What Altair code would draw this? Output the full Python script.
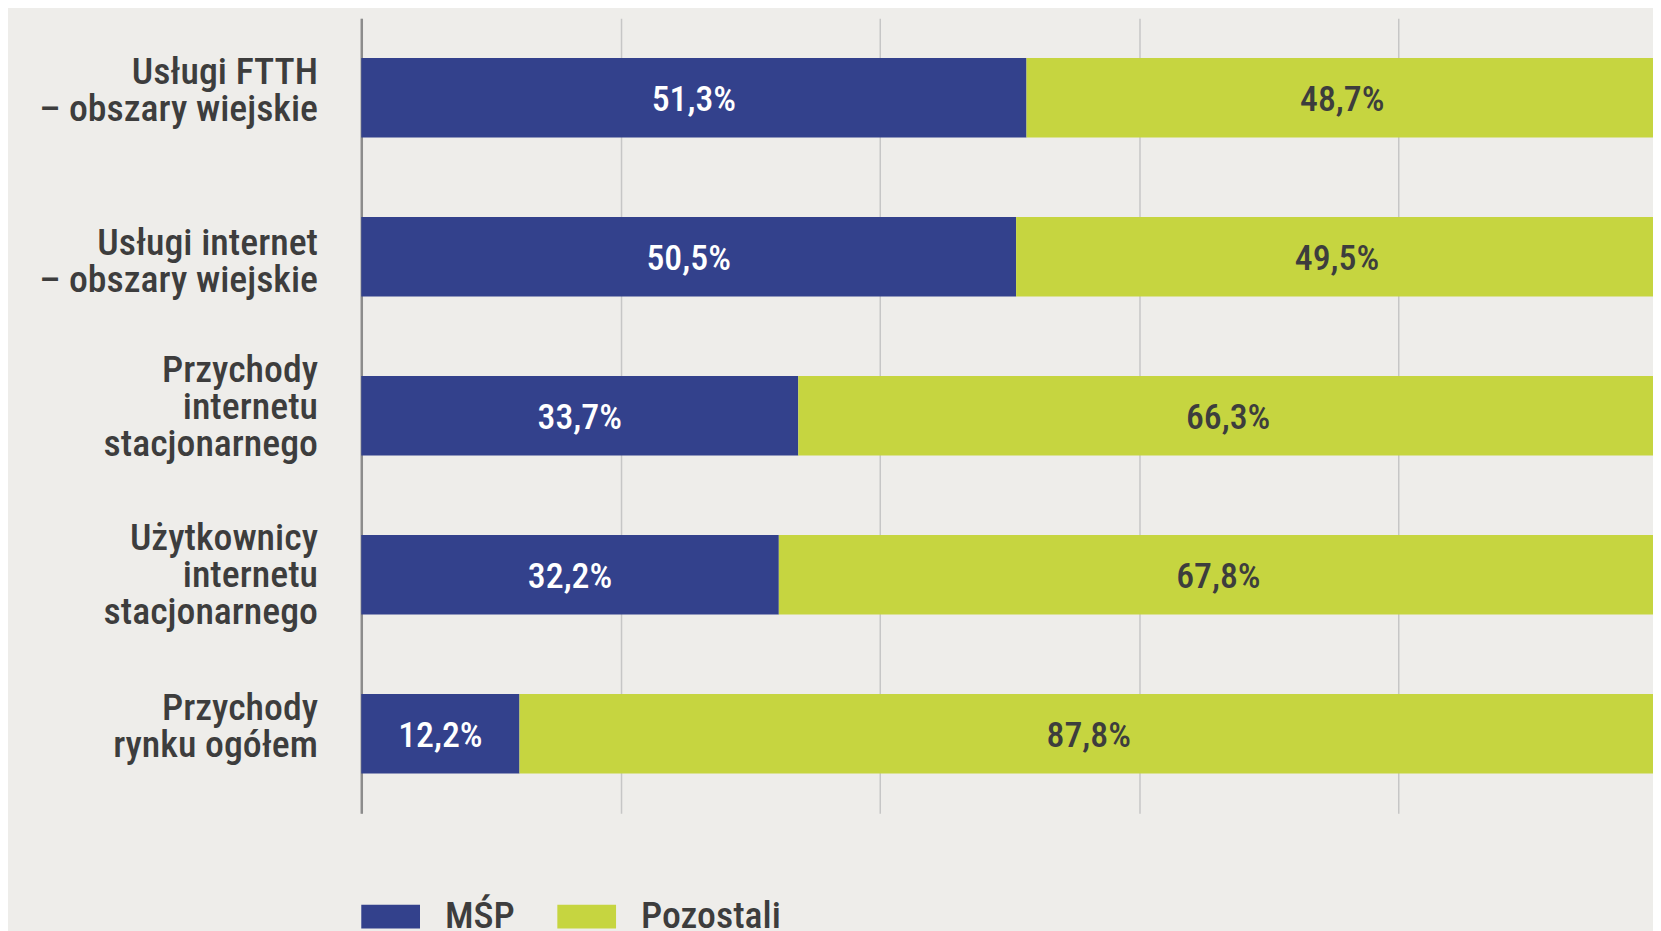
import altair as alt
import pandas as pd

categories = [
    "Usługi FTTH\n– obszary wiejskie",
    "Usługi internet\n– obszary wiejskie",
    "Przychody\ninternetu\nstacjonarnego",
    "Użytkownicy\ninternetu\nstacjonarnego",
    "Przychody\nrynku ogółem",
]
series = ["MŚP", "Pozostali"]
msp = [51.3, 50.5, 33.7, 32.2, 12.2]
pozostali = [48.7, 49.5, 66.3, 67.8, 87.8]
x_ticks = [0, 20, 40, 60, 80, 100]

rows = []
for c, a, b in zip(categories, msp, pozostali):
    rows.append({"category": c, "series": series[0], "order": 0, "value": a})
    rows.append({"category": c, "series": series[1], "order": 1, "value": b})
df = pd.DataFrame(rows)

FONT = "Roboto Condensed, Roboto"
BLUE = "#33418C"
GREEN = "#C6D540"
DARK = "#3D3D3D"

base = alt.Chart(df).transform_stack(
    stack="value", groupby=["category"], as_=["x0", "x1"],
    sort=[alt.SortField("order", order="ascending")]
).transform_calculate(
    mid="(datum.x0 + datum.x1) / 2",
    lab="replace(format(datum.value, '.1f'), '.', ',') + '%'"
)

xscale = alt.Scale(domain=[0, 100], range=[0, 1303], nice=False, zero=True)
yenc = alt.Y(
    "category:N", sort=categories, title=None,
    scale=alt.Scale(paddingInner=0.5, paddingOuter=0.25),
    axis=alt.Axis(
        labelExpr="split(datum.label, '\\n')",
        labelFont=FONT, labelFontSize=38, labelFontWeight=500,
        labelColor=DARK, labelLineHeight=37, labelPadding=44,
        labelLimit=400, ticks=False, domain=True, domainColor="#8C8C8C",
        domainWidth=2.5, grid=False, labelBaseline="middle",
        labelOffset={
            "condition": [
                {"test": "indexof(datum.value, 'Usługi internet') == 0", "value": -13},
                {"test": "indexof(datum.value, 'Przychody\\ninternetu') == 0", "value": -45},
                {"test": "indexof(datum.value, 'Użytkownicy') == 0", "value": -36},
            ],
            "value": -25,
        },
    ),
)

bars = base.mark_bar().encode(
    x=alt.X(
        "x0:Q", scale=xscale, title=None,
        axis=alt.Axis(values=x_ticks, labels=False, ticks=False, domain=False,
                      grid=True, gridColor="#C6C6C6", gridWidth=1.5),
    ),
    x2="x1:Q",
    y=yenc,
    color=alt.Color(
        "series:N",
        scale=alt.Scale(domain=series, range=[BLUE, GREEN]),
        legend=alt.Legend(
            title=None, orient="none", legendX=0, legendY=873,
            direction="horizontal",
            symbolType="M-1,-0.407H1V0.407H-1Z", symbolSize=3481,
            symbolStrokeWidth=0, symbolOpacity=1,
            labelFont=FONT, labelFontSize=38, labelFontWeight=500,
            labelColor=DARK, labelOffset=25, columnPadding=42, padding=0,
        ),
    ),
    order=alt.Order("order:Q"),
)

texts = base.mark_text(
    font=FONT, fontSize=36, fontWeight=500, baseline="middle", dy=2
).encode(
    x=alt.X("mid:Q", scale=xscale),
    y=alt.Y("category:N", sort=categories),
    text="lab:N",
    color=alt.condition("datum.series == 'MŚP'", alt.value("white"), alt.value(DARK)),
)

chart = alt.layer(bars, texts).properties(
    width=1298, height=799,
    padding={"left": 355, "top": 8, "right": 0, "bottom": 124},
    autosize=alt.AutoSizeParams(type="none"),
    background="#EEEDEA",
).configure_view(stroke=None)

chart.save("out.html", embed_options={"renderer": "svg", "actions": False})
